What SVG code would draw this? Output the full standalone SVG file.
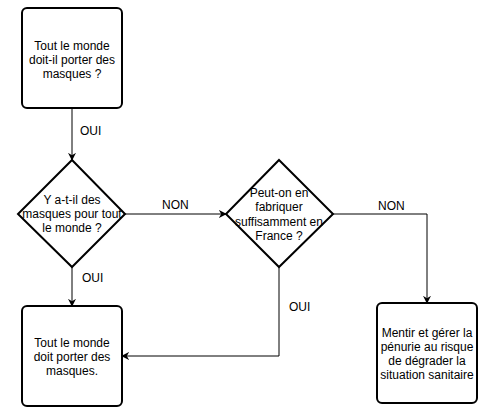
<svg xmlns="http://www.w3.org/2000/svg" width="500" height="418" viewBox="0 0 500 418">
<style>
.shape{fill:#fff;stroke:#000;stroke-width:2}
.t{font-family:"Liberation Sans",Arial,sans-serif;font-size:12px;fill:#000;text-anchor:middle}
.l{font-family:"Liberation Sans",Arial,sans-serif;font-size:12px;fill:#000}
.c{fill:none;stroke:#000;stroke-width:1}
</style>
<defs>
<marker id="arr" viewBox="0 0 10 10" refX="9" refY="5" markerWidth="8" markerHeight="8" markerUnits="userSpaceOnUse" orient="auto">
<path d="M0,0 L10,5 L0,10 L3,5 Z" fill="#000"/>
</marker>
</defs>
<rect width="500" height="418" fill="#fff"/>
<g id="connectors">
<path class="c" d="M72,108 V160" marker-end="url(#arr)"/>
<path class="c" d="M125,214 H226" marker-end="url(#arr)"/>
<path class="c" d="M72,267 V306" marker-end="url(#arr)"/>
<path class="c" d="M333,214 H427 V303" marker-end="url(#arr)"/>
<path class="c" d="M279,267 V356 H122" marker-end="url(#arr)"/>
<text class="l" x="80" y="135">OUI</text>
<text class="l" x="162" y="209">NON</text>
<text class="l" x="82" y="282">OUI</text>
<text class="l" x="378" y="210">NON</text>
<text class="l" x="289" y="311">OUI</text>
</g>
<g id="q1">
<rect class="shape" x="22" y="8" width="100" height="100" rx="5"/>
<text class="t" x="72" y="50">Tout le monde</text>
<text class="t" x="72" y="64">doit-il porter des</text>
<text class="t" x="72" y="78">masques ?</text>
</g>
<g id="d1">
<path class="shape" d="M72,160 L125,214 L72,267 L18,214 Z"/>
<text class="t" x="72" y="204">Y a-t-il des</text>
<text class="t" x="72" y="218">masques pour tout</text>
<text class="t" x="72" y="232">le monde ?</text>
</g>
<g id="d2">
<path class="shape" d="M279,160 L333,214 L279,267 L226,214 Z"/>
<text class="t" x="279" y="197">Peut-on en</text>
<text class="t" x="279" y="211">fabriquer</text>
<text class="t" x="279" y="226">suffisamment en</text>
<text class="t" x="279" y="240">France ?</text>
</g>
<g id="r1">
<rect class="shape" x="22" y="306" width="100" height="100" rx="5"/>
<text class="t" x="72" y="347">Tout le monde</text>
<text class="t" x="72" y="361">doit porter des</text>
<text class="t" x="72" y="375">masques.</text>
</g>
<g id="r2">
<rect class="shape" x="377" y="303" width="100" height="100" rx="5"/>
<text class="t" x="427" y="337">Mentir et gérer la</text>
<text class="t" x="427" y="351">pénurie au risque</text>
<text class="t" x="427" y="365">de dégrader la</text>
<text class="t" x="427" y="379">situation sanitaire</text>
</g>
</svg>
